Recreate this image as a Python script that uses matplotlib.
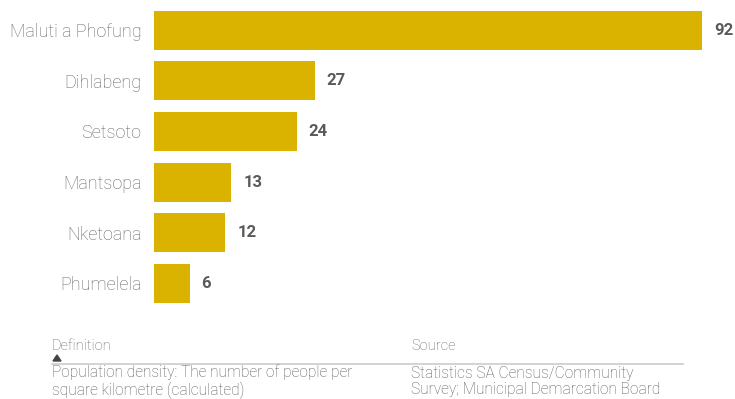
import matplotlib.pyplot as plt

municipalities = ["Maluti a Phofung", "Dihlabeng", "Setsoto", "Mantsopa", "Nketoana", "Phumelela"]
density = [92, 27, 24, 13, 12, 6]

definition_title = "Definition"
definition_text = "Population density: The number of people per\nsquare kilometre (calculated)"
source_title = "Source"
source_text = "Statistics SA Census/Community\nSurvey; Municipal Demarcation Board"

BAR = "#D9B300"
TEXT = "#5a5a5a"
FONT = "Roboto"

W, H = 735, 399
fig = plt.figure(figsize=(W / 100, H / 100), dpi=100)
fig.patch.set_facecolor("white")

ax = fig.add_axes([154 / W, 1 - 308.8 / H, 548 / W, (308.8 - 4.7) / H])
ypos = list(range(len(municipalities)))
ax.barh(ypos, density, height=0.77, color=BAR, edgecolor="none")
ax.set_xlim(0, max(density))
ax.set_ylim(len(municipalities) - 0.5, -0.5)
ax.set_yticks(ypos)
ax.set_yticklabels(municipalities, fontsize=13, color="#666666", family=FONT, fontweight="light")
ax.tick_params(axis="y", length=0, pad=9)
ax.set_xticks([])
for s in ax.spines.values():
    s.set_visible(False)

for y, v in zip(ypos, density):
    ax.annotate(str(v), (v, y), xytext=(8.5, 0), textcoords="offset points",
                va="center", ha="left", fontsize=12, fontweight="bold",
                color=TEXT, family=FONT, annotation_clip=False)

# footer: definition and source
def fx(px):
    return px / W

def fy(py):
    return 1 - py / H

fig.text(fx(52), fy(346), definition_title, fontsize=10.5, color="#666666", family=FONT,
         fontweight="light", va="center", ha="left")
fig.text(fx(411), fy(346), source_title, fontsize=10.5, color="#666666", family=FONT,
         fontweight="light", va="center", ha="left")
fig.lines.append(plt.Line2D([fx(52), fx(683)], [fy(363.5), fy(363.5)], transform=fig.transFigure,
                            color="#cccccc", lw=1.2))
fig.patches.append(plt.Polygon([[fx(53), fy(361)], [fx(61), fy(361)], [fx(57), fy(355)]],
                               closed=True, transform=fig.transFigure, color="#444444"))
fig.text(fx(52), fy(381.5), definition_text, fontsize=11.2, color=TEXT, family=FONT,
         fontweight="light", va="center", ha="left", linespacing=1.15)
fig.text(fx(411), fy(381.5), source_text, fontsize=11.2, color=TEXT, family=FONT,
         fontweight="light", va="center", ha="left", linespacing=1.15)

fig.savefig("out.png", dpi=100, facecolor="white")
